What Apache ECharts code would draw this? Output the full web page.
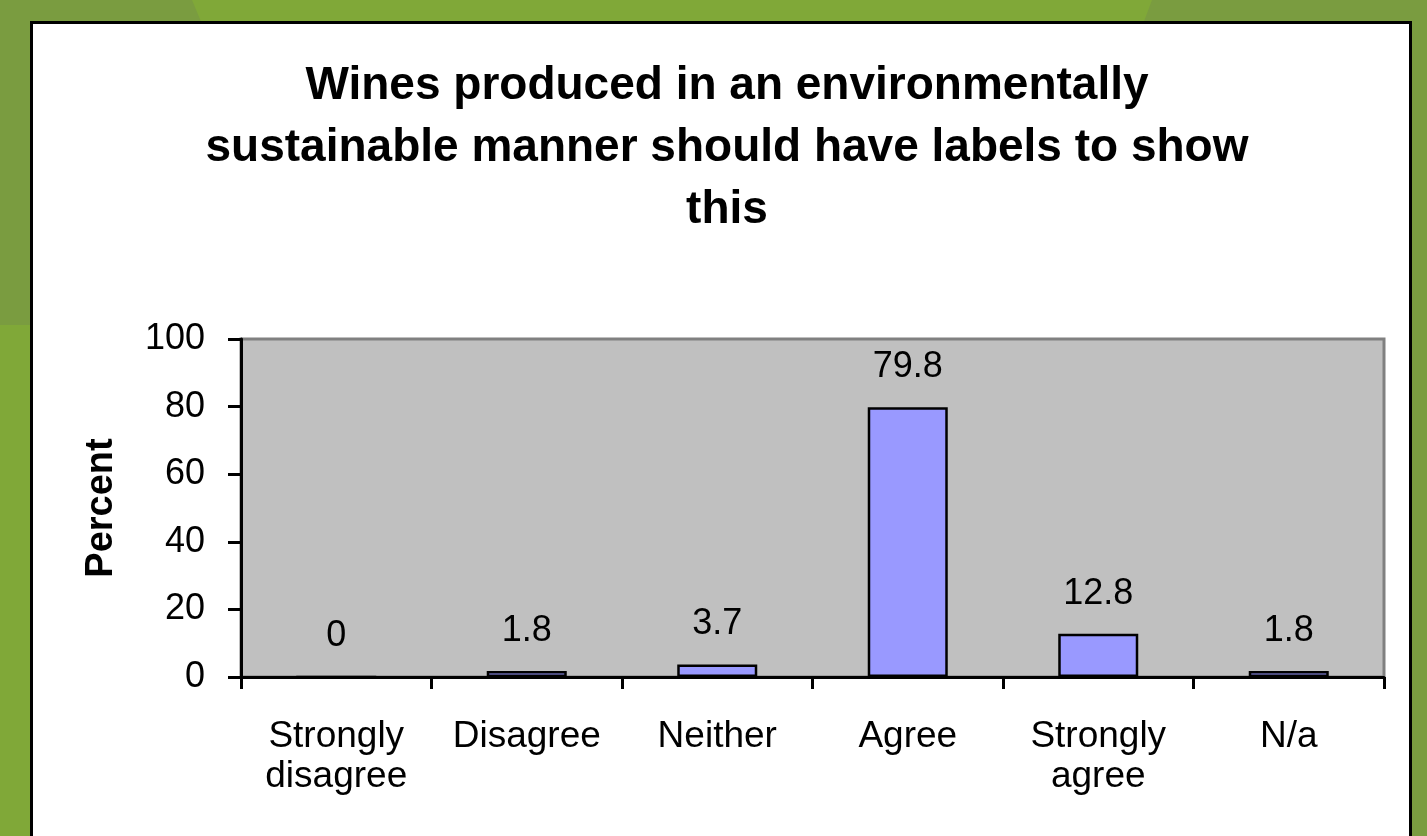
<!DOCTYPE html>
<html>
<head>
<meta charset="utf-8">
<title>Wine label survey</title>
<script src="https://cdn.jsdelivr.net/npm/echarts@6/dist/echarts.min.js"></script>
<style>
  html, body { margin: 0; padding: 0; background: #80a838; }
  #chart { width: 1427px; height: 836px; }
</style>
</head>
<body>
<div id="chart"></div>
<script>
// Survey responses (percent of respondents)
const categories = ['Strongly\ndisagree', 'Disagree', 'Neither', 'Agree', 'Strongly\nagree', 'N/a'];
const percents = [0, 1.8, 3.7, 79.8, 12.8, 1.8];
const yTicks = { min: 0, max: 100, interval: 20 };

const titleText = 'Wines produced in an environmentally\nsustainable manner should have labels to show\nthis';

const font = '"Liberation Sans", Arial, sans-serif';
const lightGreen = '#80a838';
const darkGreen = '#7a9c40';

const chart = echarts.init(document.getElementById('chart'), null, { renderer: 'canvas' });

chart.setOption({
  backgroundColor: lightGreen,
  animation: false,
  graphic: [
    // slide backdrop shapes
    { type: 'polygon', z: -10, shape: { points: [[0, 0], [192, 0], [202, 24], [32, 24], [32, 325], [0, 325]] }, style: { fill: darkGreen } },
    { type: 'polygon', z: -10, shape: { points: [[1152, 0], [1427, 0], [1427, 836], [1410, 836], [1410, 24], [1143, 24]] }, style: { fill: darkGreen } },
    // white chart panel
    { type: 'rect', z: -5, shape: { x: 31.5, y: 22.5, width: 1379, height: 830 }, style: { fill: '#ffffff', stroke: '#000000', lineWidth: 3 } }
  ],
  title: {
    text: titleText,
    left: 722,
    textAlign: 'center',
    top: 50,
    textStyle: { fontFamily: font, fontWeight: 'bold', fontSize: 46, lineHeight: 62, color: '#000' }
  },
  grid: {
    left: 241, right: 43, top: 339, bottom: 159,
    show: true,
    backgroundColor: '#c0c0c0',
    borderColor: '#808080',
    borderWidth: 3
  },
  xAxis: {
    type: 'category',
    data: categories,
    axisLine: { lineStyle: { color: '#000', width: 3 } },
    axisTick: { show: true, length: 12, lineStyle: { color: '#000', width: 3 } },
    axisLabel: {
      color: '#000', fontFamily: font, fontSize: 37, lineHeight: 40, margin: 40,
      interval: 0
    },
    splitLine: { show: false }
  },
  yAxis: {
    type: 'value',
    min: yTicks.min, max: yTicks.max, interval: yTicks.interval,
    name: 'Percent',
    nameLocation: 'middle',
    nameRotate: 90,
    nameGap: 120,
    nameTextStyle: { fontFamily: font, fontWeight: 'bold', fontSize: 38, color: '#000' },
    axisLine: { show: true, lineStyle: { color: '#000', width: 3 } },
    axisTick: { show: true, length: 13, lineStyle: { color: '#000', width: 3 } },
    axisLabel: { color: '#000', fontFamily: font, fontSize: 36, margin: 36 },
    splitLine: { show: false }
  },
  series: [{
    type: 'bar',
    data: percents,
    barWidth: '42%',
    itemStyle: { color: '#9999ff', borderColor: '#000', borderWidth: 2.5 },
    label: {
      show: true,
      position: 'top',
      distance: 22,
      color: '#000',
      fontFamily: font,
      fontSize: 36,
      lineHeight: 36
    }
  }]
});
</script>
</body>
</html>
